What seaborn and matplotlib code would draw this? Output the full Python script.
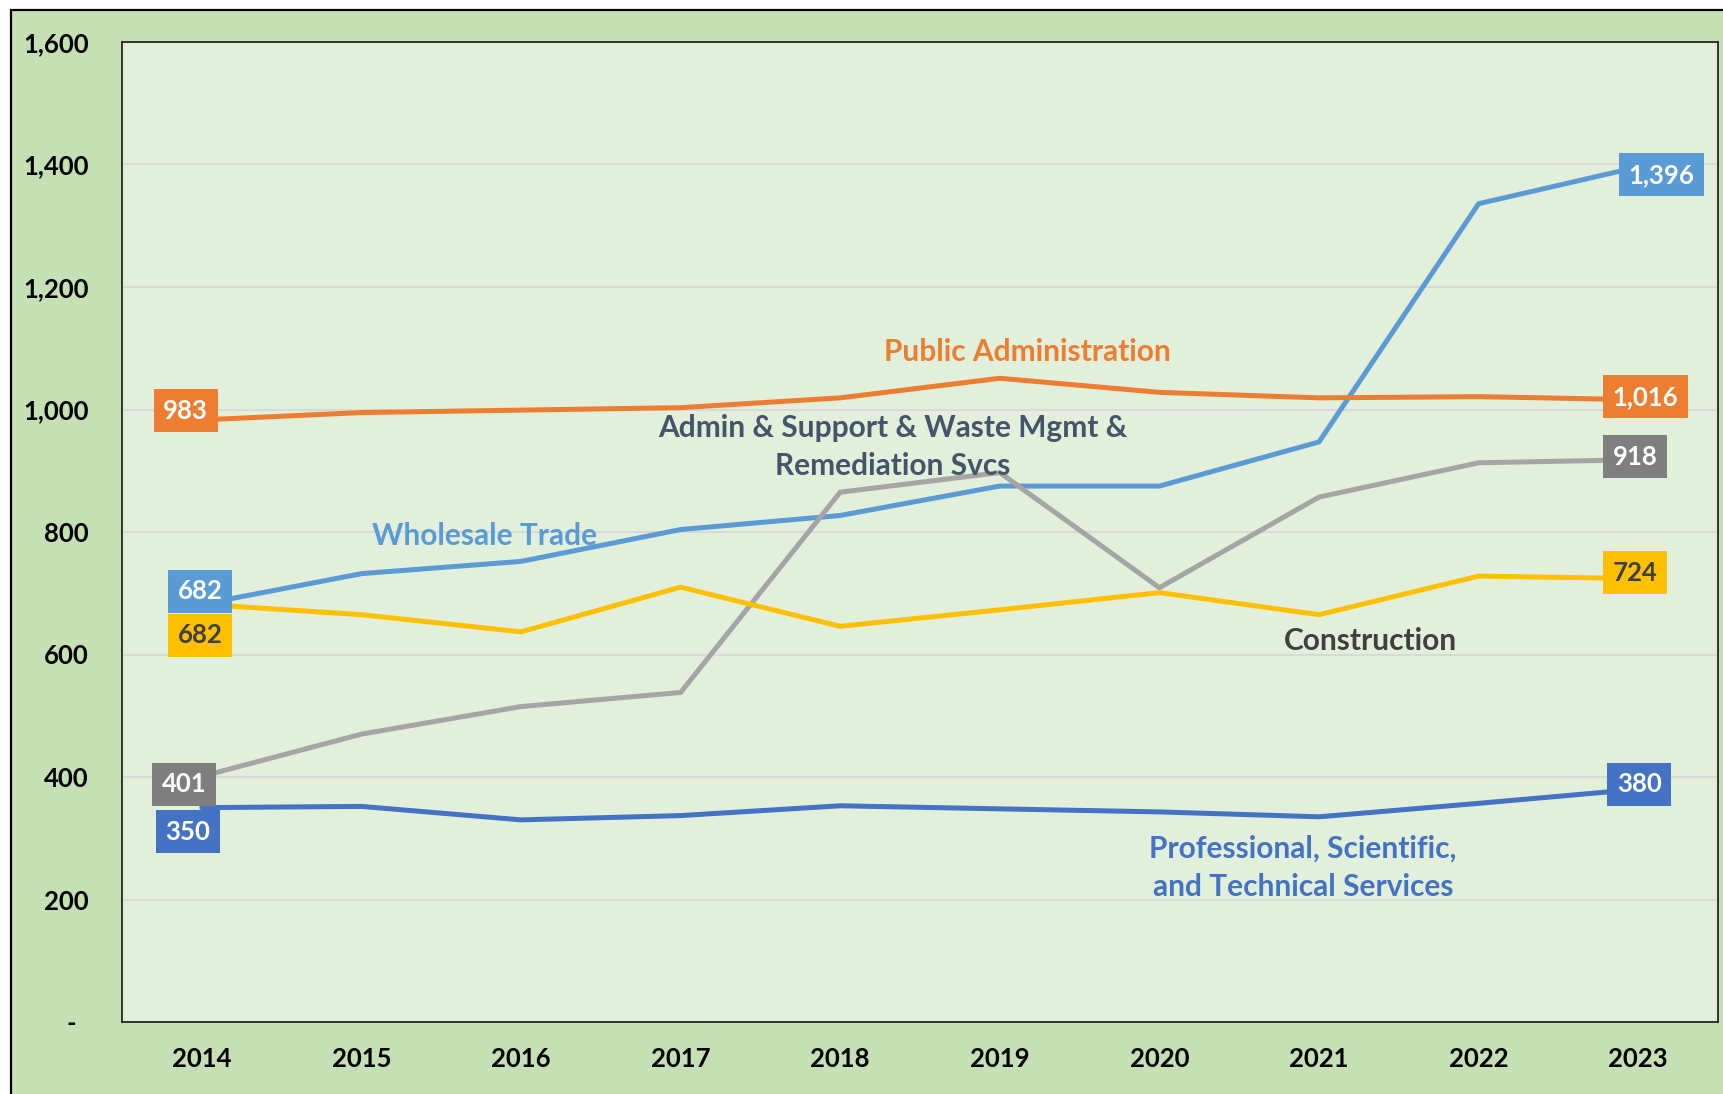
import pandas as pd
import seaborn as sns
import matplotlib.pyplot as plt
from matplotlib.patches import Rectangle

years = ['2014', '2015', '2016', '2017', '2018', '2019', '2020', '2021', '2022', '2023']

wholesale = [682, 732, 752, 804, 827, 875, 875, 947, 1336, 1396]
public_admin = [983, 995, 999, 1003, 1019, 1051, 1028, 1019, 1021, 1016]
admin_support = [401, 470, 515, 538, 865, 897, 709, 857, 913, 918]
construction = [682, 665, 637, 710, 646, 673, 701, 665, 728, 724]
professional = [350, 352, 330, 337, 353, 348, 343, 335, 357, 380]

series_names = ['Wholesale Trade', 'Public Administration',
                'Admin & Support & Waste Mgmt & Remediation Svcs',
                'Construction', 'Professional, Scientific, and Technical Services']
series_values = [wholesale, public_admin, admin_support, construction, professional]
colors = ['#5B9BD5', '#ED7D31', '#A5A5A5', '#FFC000', '#4472C4']
box_colors = ['#5B9BD5', '#ED7D31', '#7F7F7F', '#FFC000', '#4472C4']
box_text = ['white', 'white', 'white', '#404040', 'white']

# pixel offsets of the first / last value boxes
first_off = [(-2, 13), (-16, 9), (-18, -8), (-2, -31), (-14, -24)]
last_off = [(23, -8), (7, 3), (-3, 3), (-3, 6), (1, 5)]

rows = []
for name, vals in zip(series_names, series_values):
    for y, v in zip(years, vals):
        rows.append({'Year': y, 'Value': v, 'Series': name})
df = pd.DataFrame(rows)

sns.set_style('white')
plt.rcParams['font.family'] = ['Lato', 'DejaVu Sans']
plt.rcParams['font.weight'] = 'bold'

fig = plt.figure(figsize=(17.23, 10.94), dpi=100)
fig.patch.set_facecolor('white')
frame = Rectangle((11 / 1723, -0.02), 1.0, 1084 / 1094 + 0.02,
                  transform=fig.transFigure, facecolor='#C5E0B4',
                  edgecolor='black', linewidth=1.6, zorder=-10)
fig.patches.append(frame)

ax = fig.add_axes([122 / 1723, 72 / 1094, 1596 / 1723, 980 / 1094])
ax.set_zorder(1)
ax.set_facecolor('#E2EFDA')

sns.lineplot(data=df, x='Year', y='Value', hue='Series', palette=colors,
             hue_order=series_names, linewidth=3.6, legend=False, sort=False, ax=ax)

ax.set_xlim(-0.5, len(years) - 0.5)
ax.set_ylim(0, 1600)
ax.set_yticks(range(0, 1601, 200))
ax.set_yticklabels(['-  '] + [f'{v:,}' for v in range(200, 1601, 200)])
ax.yaxis.grid(True, color='#D9D9D9', linewidth=1.5)
ax.set_axisbelow(True)
ax.tick_params(axis='both', length=0, labelsize=18.5, labelcolor='black')
ax.tick_params(axis='y', pad=24)
ax.tick_params(axis='x', pad=18)
ax.set_xlabel('')
ax.set_ylabel('')
for s in ax.spines.values():
    s.set_color('#262626')
    s.set_linewidth(1.3)

for i, vals in enumerate(series_values):
    for idx, off in [(0, first_off[i]), (len(years) - 1, last_off[i])]:
        ax.annotate(f'{vals[idx]:,}', xy=(idx, vals[idx]), xytext=off,
                    textcoords='offset pixels', ha='center', va='center',
                    fontsize=18.5, fontweight='bold', color=box_text[i],
                    bbox=dict(boxstyle='square,pad=0.37', facecolor=box_colors[i],
                              edgecolor='none'), zorder=5)

label_kw = dict(fontsize=21.5, fontweight='bold', ha='center', va='center', linespacing=1.45)
ax.text(5.17, 1094, 'Public Administration', color='#ED7D31', **label_kw)
ax.text(4.33, 939, 'Admin & Support & Waste Mgmt &\nRemediation Svcs', color='#44546A', **label_kw)
ax.text(1.77, 793, 'Wholesale Trade', color='#5B9BD5', **label_kw)
ax.text(7.32, 622, 'Construction', color='#404040', **label_kw)
ax.text(6.90, 251, 'Professional, Scientific,\nand Technical Services', color='#4472C4', **label_kw)

fig.savefig('out.png', dpi=100, facecolor=fig.get_facecolor())
